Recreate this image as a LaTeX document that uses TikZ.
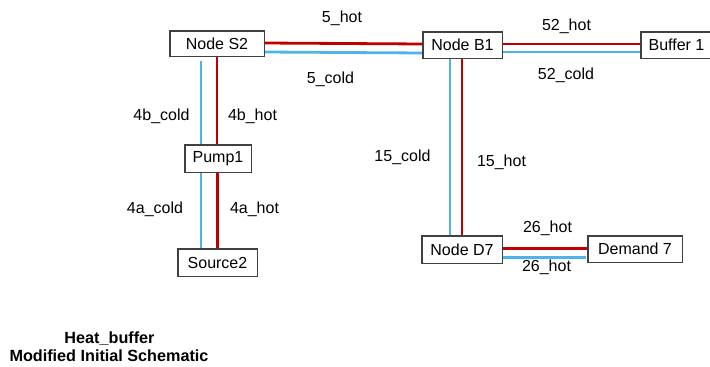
\documentclass[tikz,border=0pt]{standalone}
\usepackage{fontspec}
\setmainfont{Liberation Sans}
\usetikzlibrary{calc}
\definecolor{hotred}{HTML}{C00000}
\definecolor{coldblue}{HTML}{4EB3E8}
\definecolor{boxline}{HTML}{404040}
\tikzset{
  unit/.style={draw=boxline, line width=0.9pt, fill=white, inner sep=0pt,
               font=\fontsize{16}{19}\selectfont},
  lbl/.style={inner sep=0pt, font=\fontsize{16}{19}\selectfont},
  ttl/.style={inner sep=0pt, font=\bfseries\fontsize{16.2}{19}\selectfont},
  hot/.style={draw=hotred, line width=2.8pt},
  cold/.style={draw=coldblue, line width=2.8pt},
}
\begin{document}
\begin{tikzpicture}[x=1pt,y=-1pt]
\useasboundingbox (0,0) rectangle (710,367);

% unit boxes
\node[unit, minimum width=94pt, minimum height=25pt] (S2) at (217,43.5) {Node S2};
\node[unit, minimum width=79pt, minimum height=26pt] (B1) at (462.5,45) {Node B1};
\node[unit, minimum width=71pt, minimum height=26pt] (BF) at (676.5,45) {Buffer 1};
\node[unit, minimum width=66pt, minimum height=27pt] (P1) at (218,158.5) {Pump1};
\node[unit, minimum width=79pt, minimum height=27pt] (SR) at (217.5,262.5) {Source2};
\node[unit, minimum width=80pt, minimum height=27pt] (D7) at (462,249.5) {Node D7};
\node[unit, minimum width=94pt, minimum height=26pt] (DM) at (635,249) {Demand 7};

% S2 -- B1
\draw[hot]  ([yshift=0.5pt]S2.east) -- ([yshift=1pt]B1.west);
\draw[cold] ([yshift=-8.5pt]S2.east) -- ([yshift=-8pt]B1.west);
% B1 -- Buffer 1
\draw[hot]  ([yshift=1pt]B1.east) -- ([yshift=1pt]BF.west);
\draw[cold] ([yshift=-7pt]B1.east) -- ([yshift=-7pt]BF.west);
% S2 -- Pump1
\draw[hot]  (S2.south) -- (S2.south |- P1.north);
\draw[cold] ([xshift=-16pt,yshift=-5pt]S2.south) -- ([xshift=-16pt]S2.south |- P1.north);
% Pump1 -- Source2
\draw[hot]  ([xshift=-0.5pt]P1.south) -- ([xshift=-0.5pt]P1.south |- SR.north);
\draw[cold] ([xshift=-17pt]P1.south) -- ([xshift=-17pt]P1.south |- SR.north);
% B1 -- D7
\draw[hot]  ([xshift=-0.5pt]B1.south) -- ([xshift=-0.5pt]B1.south |- D7.north);
\draw[cold] ([xshift=-12.5pt,yshift=-1pt]B1.south) -- ([xshift=-12.5pt]B1.south |- D7.north);
% D7 -- Demand 7
\draw[hot]  ([yshift=1pt]D7.east) -- ([yshift=1pt]D7.east -| DM.west);
\draw[cold] ([yshift=-8pt]D7.east) -- ([xshift=-2pt,yshift=-8pt]D7.east -| DM.west);

% redraw box outlines over pipe ends
\foreach \n in {S2,B1,BF,P1,SR,D7,DM}{
  \draw[boxline, line width=0.9pt] (\n.north west) rectangle (\n.south east);
}

% pipe labels
\node[lbl] (l5h)   at (342,18)    {5\_hot};
\node[lbl] (l5c)   at (330.5,79)  {5\_cold};
\node[lbl] (l52h)  at (566.5,26)  {52\_hot};
\node[lbl] (l52c)  at (566,75)    {52\_cold};
\node[lbl] (l4bc)  at (161.5,116) {4b\_cold};
\node[lbl] (l4bh)  at (252.5,116) {4b\_hot};
\node[lbl] (l4ac)  at (155,209)   {4a\_cold};
\node[lbl] (l4ah)  at (254.5,209) {4a\_hot};
\node[lbl] (l15c)  at (402.5,157) {15\_cold};
\node[lbl] (l15h)  at (501.5,162) {15\_hot};
\node[lbl] (l26a)  at (547.5,228) {26\_hot};
\node[lbl] (l26b)  at (546.5,267) {26\_hot};

% caption
\node[ttl] (t1) at (109.5,339) {Heat\_buffer};
\node[ttl] (t2) at (109,356) {Modified Initial Schematic};
\end{tikzpicture}
\end{document}
